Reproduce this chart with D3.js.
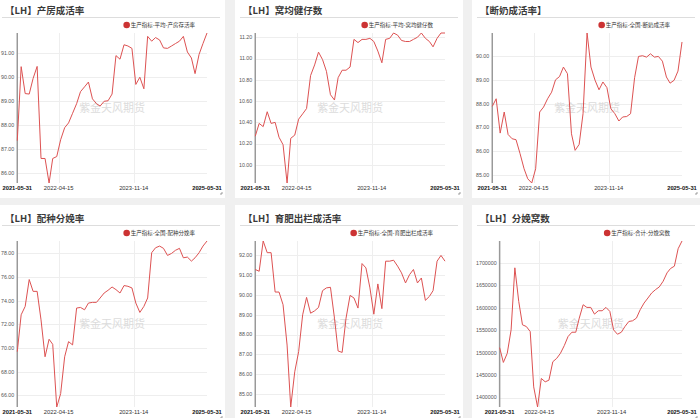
<!DOCTYPE html>
<html lang="zh">
<head>
<meta charset="UTF-8">
<title>LH 生产指标</title>
<script src="https://d3js.org/d3.v7.min.js"></script>
<style>
  body { margin: 0; background: #f0f0f0; }
  #chart { width: 700px; height: 418px; overflow: hidden; }
  text { font-family: "Liberation Sans", "Noto Sans CJK SC", sans-serif; }
</style>
</head>
<body>
<div id="chart"></div>
<script>
// month-end dates of the series
var dates = [
  "2021-05-31","2021-06-30","2021-07-31","2021-08-31","2021-09-30","2021-10-31","2021-11-30","2021-12-31",
  "2022-01-31","2022-02-28","2022-03-31","2022-04-30","2022-05-31","2022-06-30","2022-07-31","2022-08-31",
  "2022-09-30","2022-10-31","2022-11-30","2022-12-31",
  "2023-01-31","2023-02-28","2023-03-31","2023-04-30","2023-05-31","2023-06-30","2023-07-31","2023-08-31",
  "2023-09-30","2023-10-31","2023-11-30","2023-12-31",
  "2024-01-31","2024-02-29","2024-03-31","2024-04-30","2024-05-31","2024-06-30","2024-07-31","2024-08-31",
  "2024-09-30","2024-10-31","2024-11-30","2024-12-31",
  "2025-01-31","2025-02-28","2025-03-31","2025-04-30","2025-05-31"
];
var tickDates = ["2021-05-31", "2022-04-15", "2023-11-14", "2025-05-31"];

var titles = ["【LH】产房成活率", "【LH】窝均健仔数", "【断奶成活率】",
              "【LH】配种分娩率", "【LH】育肥出栏成活率", "【LH】分娩窝数"];
var legendNames = ["生产指标-平均-产房存活率", "生产指标-平均-窝均健仔数", "生产指标-全国-断奶成活率",
                   "生产指标-全国-配种分娩率", "生产指标-全国-育肥出栏成活率", "生产指标-合计-分娩窝数"];

var farrowSurvival = [87.36, 90.44, 89.32, 89.30, 89.95, 90.45, 86.62, 86.62, 85.60, 86.62, 86.70, 87.40, 87.90,
  88.10, 88.50, 88.90, 89.40, 89.60, 89.80, 89.10, 88.90, 88.80, 89.00, 89.02, 89.30, 90.90, 90.75, 91.35, 91.30,
  91.20, 89.70, 90.00, 89.52, 91.70, 91.50, 91.65, 91.55, 91.22, 91.20, 91.30, 91.40, 91.50, 91.70, 91.05, 90.80,
  90.15, 90.95, 91.40, 91.84];
var healthyPerLitter = [10.27, 10.39, 10.36, 10.50, 10.39, 10.40, 10.26, 10.19, 9.83, 10.25, 10.28, 10.43, 10.48,
  10.53, 10.84, 10.94, 11.06, 10.99, 10.88, 10.66, 10.61, 10.82, 10.89, 10.89, 10.92, 11.18, 11.15, 11.18, 11.18,
  11.19, 11.16, 11.07, 10.96, 11.18, 11.19, 11.24, 11.22, 11.17, 11.16, 11.16, 11.18, 11.20, 11.24, 11.19, 11.16,
  11.11, 11.19, 11.24, 11.24];
var weanSurvival = [87.89, 88.21, 86.76, 87.65, 86.70, 86.52, 86.48, 85.89, 85.25, 84.83, 84.65, 85.25, 87.65,
  87.86, 88.21, 88.49, 89.01, 89.15, 89.55, 89.27, 86.73, 86.03, 86.28, 87.58, 90.99, 89.55, 89.00, 88.59, 88.92,
  88.68, 87.79, 87.58, 87.27, 87.44, 87.46, 87.58, 89.10, 90.00, 90.03, 89.97, 90.11, 89.97, 90.00, 89.80, 89.13,
  88.87, 88.99, 89.38, 90.61];
var breedFarrowRate = [69.69, 72.81, 73.52, 75.79, 74.79, 74.79, 72.38, 69.26, 70.74, 70.31, 65.01, 66.14, 69.26,
  70.54, 70.26, 73.38, 73.43, 73.23, 73.80, 73.86, 73.86, 74.23, 74.65, 74.88, 75.16, 74.94, 74.65, 75.28, 75.22,
  75.08, 73.80, 73.01, 73.52, 74.23, 78.06, 78.48, 78.62, 78.43, 77.83, 78.00, 78.26, 78.43, 77.63, 77.69, 77.35,
  77.63, 78.06, 78.62, 79.05];
var finishSurvival = [91.29, 91.20, 92.73, 92.14, 92.14, 90.15, 90.15, 89.51, 87.47, 84.34, 86.12, 87.14, 89.00,
  89.88, 89.08, 89.20, 89.37, 90.22, 90.36, 90.39, 88.83, 87.17, 87.10, 88.83, 89.98, 89.85, 89.34, 91.59, 91.37,
  90.36, 89.03, 90.56, 89.31, 91.71, 91.71, 91.76, 91.46, 91.12, 90.61, 91.03, 91.29, 90.61, 90.86, 89.73, 89.93,
  90.22, 91.71, 92.00, 91.71];
var farrowLitters = [1511200, 1478300, 1498500, 1550700, 1688800, 1614200, 1562000, 1558200, 1547000, 1423900,
  1379100, 1442600, 1435100, 1438800, 1479800, 1487300, 1498500, 1515700, 1535800, 1545500, 1545500, 1576900,
  1606700, 1600700, 1600700, 1585800, 1593300, 1593300, 1600700, 1591800, 1550700, 1541000, 1545500, 1558200,
  1569400, 1570900, 1576900, 1595500, 1610400, 1621600, 1632800, 1640300, 1646300, 1659000, 1677600, 1687300,
  1692500, 1731300, 1748500];

var series = [farrowSurvival, healthyPerLitter, weanSurvival, breedFarrowRate, finishSurvival, farrowLitters];
var tickCounts = [6, 7, 6, 7, 8, 7];
var formats = [d3.format(".2f"), d3.format(".2f"), d3.format(".2f"), d3.format(".2f"), d3.format(".2f"), d3.format("d")];

var colX = [-3, 235, 472], panelW = 228;
var rowY = [-3, 205], rowH = [201, 217];

var parse = d3.timeParse("%Y-%m-%d");
var xDates = dates.map(parse);

var svg = d3.select("#chart").append("svg")
    .attr("width", 700)
    .attr("height", 418);

svg.append("rect").attr("width", 700).attr("height", 418).attr("fill", "#f0f0f0");

series.forEach(function(values, k) {
  var px = colX[k % 3], py = rowY[Math.floor(k / 3)], ph = rowH[Math.floor(k / 3)];
  var g = svg.append("g");

  g.append("rect").attr("x", px).attr("y", py).attr("width", panelW).attr("height", ph).attr("fill", "#fff");

  // title + underline
  g.append("text").attr("x", px + 8).attr("y", py + 16.5)
    .style("font-family", "'Noto Sans CJK SC', sans-serif")
    .style("font-size", "9.5px").style("font-weight", "bold").attr("fill", "#3a3a3a")
    .text(titles[k]);
  g.append("line").attr("x1", px + 5).attr("x2", px + panelW - 5)
    .attr("y1", py + 20.5).attr("y2", py + 20.5).attr("stroke", "#ddd");

  // legend
  var lg = g.append("text").attr("x", px + panelW - 30).attr("y", py + 30)
    .attr("text-anchor", "end").style("font-size", "5.5px").attr("fill", "#333")
    .style("font-family", "'Noto Sans CJK SC', sans-serif")
    .text(legendNames[k]);
  var lw = lg.node().getComputedTextLength();
  g.append("circle").attr("cx", px + panelW - 30 - lw - 4).attr("cy", py + 28).attr("r", 3.3).attr("fill", "#cc3333");

  var top = py + 36, bottom = py + ph - 15, right = px + panelW - 18;

  var y = d3.scaleLinear().domain(d3.extent(values)).range([bottom, top]);
  var yt = y.ticks(tickCounts[k]);

  // measure widest y label to place the axis
  var yLabels = g.append("g");
  yLabels.selectAll("text").data(yt).enter().append("text")
    .attr("text-anchor", "end").attr("dy", "0.35em")
    .attr("y", function(d) { return y(d); })
    .style("font-size", "5.3px").attr("fill", "#555")
    .text(formats[k]);
  var maxW = d3.max(yLabels.selectAll("text").nodes(), function(n) { return n.getComputedTextLength(); });
  var left = px + 4 + maxW + 3;
  yLabels.selectAll("text").attr("x", left - 3);

  var x = d3.scaleTime().domain([parse(tickDates[0]), parse(tickDates[3])]).range([left, right]);

  // grid
  g.append("g").selectAll("line").data(yt).enter().append("line")
    .attr("x1", left).attr("x2", right)
    .attr("y1", function(d) { return Math.round(y(d)) + 0.5; })
    .attr("y2", function(d) { return Math.round(y(d)) + 0.5; })
    .attr("stroke", "#eee");
  g.append("g").selectAll("line").data(tickDates.slice(1, 3)).enter().append("line")
    .attr("x1", function(d) { return Math.round(x(parse(d))) + 0.5; })
    .attr("x2", function(d) { return Math.round(x(parse(d))) + 0.5; })
    .attr("y1", top).attr("y2", bottom)
    .attr("stroke", "#eee");

  // watermark
  g.append("text").attr("x", (left + right) / 2).attr("y", (top + bottom) / 2 + 4)
    .attr("text-anchor", "middle").style("font-size", "11px")
    .style("font-family", "'Noto Sans CJK SC', sans-serif")
    .attr("fill", "#dcdcdc").text("紫金天风期货");

  // y axis line
  g.append("line").attr("x1", left).attr("x2", left).attr("y1", top).attr("y2", bottom)
    .attr("stroke", "#999").attr("stroke-width", 1.5);

  // x labels
  g.append("g").selectAll("text").data(tickDates).enter().append("text")
    .attr("x", function(d) { return x(parse(d)); })
    .attr("y", bottom + 7)
    .attr("text-anchor", "middle")
    .style("font-size", "5.8px")
    .style("font-weight", function(d, i) { return (i == 0 || i == 3) ? "bold" : "normal"; })
    .attr("fill", function(d, i) { return (i == 0 || i == 3) ? "#111" : "#333"; })
    .text(function(d) { return d; });

  // the line
  var line = d3.line()
    .x(function(d, i) { return x(xDates[i]); })
    .y(function(d) { return y(d); });
  g.append("path").datum(values)
    .attr("d", line)
    .attr("fill", "none")
    .attr("stroke", "#dd5252")
    .attr("stroke-width", 1);

  // resize mark
  g.append("path")
    .attr("d", "M" + (px + panelW - 5) + "," + (py + ph - 4) + " h2 v-2")
    .attr("fill", "none").attr("stroke", "#777").attr("stroke-width", 0.7);
});
</script>
</body>
</html>
